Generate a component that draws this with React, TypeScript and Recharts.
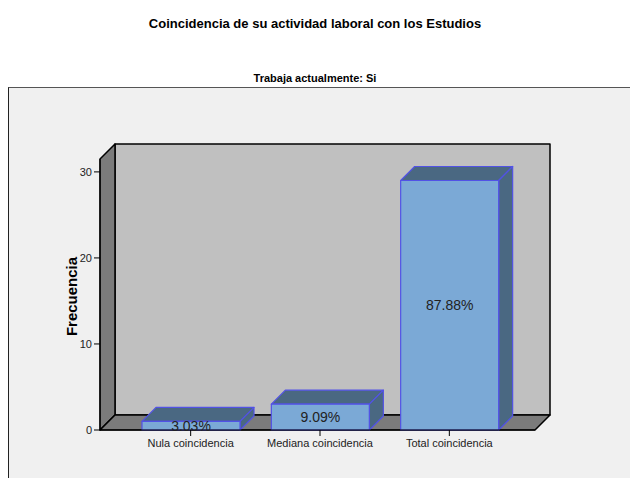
import { Bar, BarChart, LabelList, ReferenceArea, XAxis, YAxis } from "recharts";

const categories = ["Nula coincidencia", "Mediana coincidencia", "Total coincidencia"];
const counts = [1, 3, 29];
const percentLabels = ["3.03%", "9.09%", "87.88%"];
const yTicks = [0, 10, 20, 30];

const data = categories.map((name, i) => ({
  name,
  count: counts[i],
  pct: percentLabels[i],
}));

const WALL_DEPTH = 15;
const BAR_DEPTH = 14;
const PAD_LEFT = 26;
const PAD_RIGHT = 21;
const FONT = "'Liberation Sans', Arial, sans-serif";

interface BoxProps {
  x?: number;
  y?: number;
  width?: number;
  height?: number;
}

// back wall, side wall and floor of the 3D frame; the area rect excludes the
// category axis padding, so widen it back to the full plot width
function Walls({ x = 0, y = 0, width = 0, height = 0 }: BoxProps) {
  const d = WALL_DEPTH;
  const l = x - PAD_LEFT;
  const b = y + height;
  const r = x + width + PAD_RIGHT;
  return (
    <g stroke="#000" strokeWidth={1.5} strokeLinejoin="round">
      <polygon
        points={`${l + d},${y - d} ${r + d},${y - d} ${r + d},${b - d} ${l + d},${b - d}`}
        fill="#c0c0c0"
      />
      <polygon
        points={`${l},${y} ${l + d},${y - d} ${l + d},${b - d} ${l},${b}`}
        fill="#7b7b7b"
      />
      <polygon
        points={`${l},${b} ${l + d},${b - d} ${r + d},${b - d} ${r},${b}`}
        fill="#7b7b7b"
      />
    </g>
  );
}

function Bar3D({ x = 0, y = 0, width = 0, height = 0 }: BoxProps) {
  const d = BAR_DEPTH;
  const r = x + width;
  const b = y + height;
  return (
    <g stroke="#5252e6" strokeWidth={1.2} strokeLinejoin="round">
      <polygon
        points={`${x},${y} ${x + d},${y - d} ${r + d},${y - d} ${r},${y}`}
        fill="#4a6882"
      />
      <polygon
        points={`${r},${y} ${r + d},${y - d} ${r + d},${b - d} ${r},${b}`}
        fill="#4a6882"
      />
      <rect x={x} y={y} width={width} height={height} fill="#7ba9d6" />
    </g>
  );
}

export default function App() {
  return (
    <div
      style={{
        position: "absolute",
        left: 0,
        top: 0,
        width: 630,
        height: 478,
        background: "#fff",
        fontFamily: FONT,
        overflow: "hidden",
      }}
    >
      <div
        style={{
          position: "absolute",
          top: 16,
          left: 0,
          width: 630,
          textAlign: "center",
          fontSize: 13,
          lineHeight: "15px",
          fontWeight: "bold",
          color: "#000",
        }}
      >
        Coincidencia de su actividad laboral con los Estudios
      </div>
      <div
        style={{
          position: "absolute",
          top: 72,
          left: 0,
          width: 630,
          textAlign: "center",
          fontSize: 11,
          lineHeight: "13px",
          fontWeight: "bold",
          color: "#000",
        }}
      >
        Trabaja actualmente: Si
      </div>
      <div
        style={{
          position: "absolute",
          top: 87,
          left: 8,
          width: 640,
          height: 400,
          background: "#f0f0f0",
          borderTop: "1px solid #555",
          borderLeft: "1px solid #222",
        }}
      />
      <div style={{ position: "absolute", left: 0, top: 0 }}>
        <BarChart
          width={630}
          height={478}
          data={data}
          margin={{ top: 159, right: 95, bottom: 18, left: 0 }}
        >
          <XAxis
            dataKey="name"
            height={30}
            padding={{ left: PAD_LEFT, right: PAD_RIGHT }}
            stroke="#000"
            tickSize={6}
            tickMargin={3}
            tick={{ fill: "#222", fontSize: 11, fontFamily: FONT }}
            interval={0}
          />
          <YAxis
            width={100}
            domain={[0, 31.5]}
            ticks={yTicks}
            stroke="#000"
            tickSize={6}
            tickMargin={2}
            tick={{ fill: "#222", fontSize: 11, fontFamily: FONT }}
            label={(props: { viewBox?: BoxProps }) => {
              const vb = props.viewBox ?? {};
              const cy = (vb.y ?? 0) + (vb.height ?? 0) / 2 + 2;
              return (
                <text
                  x={77}
                  y={cy}
                  transform={`rotate(-90 77 ${cy})`}
                  textAnchor="middle"
                  fontSize={15}
                  fontWeight="bold"
                  fontFamily={FONT}
                  fill="#000"
                >
                  Frecuencia
                </text>
              );
            }}
          />
          <ReferenceArea y1={0} y2={31.5} shape={<Walls />} ifOverflow="visible" />
          <Bar
            dataKey="count"
            barSize={98}
            shape={<Bar3D />}
            isAnimationActive={false}
          >
            <LabelList
              dataKey="pct"
              position="center"
              fill="#222"
              fontSize={14}
              fontFamily={FONT}
            />
          </Bar>
        </BarChart>
      </div>
    </div>
  );
}
